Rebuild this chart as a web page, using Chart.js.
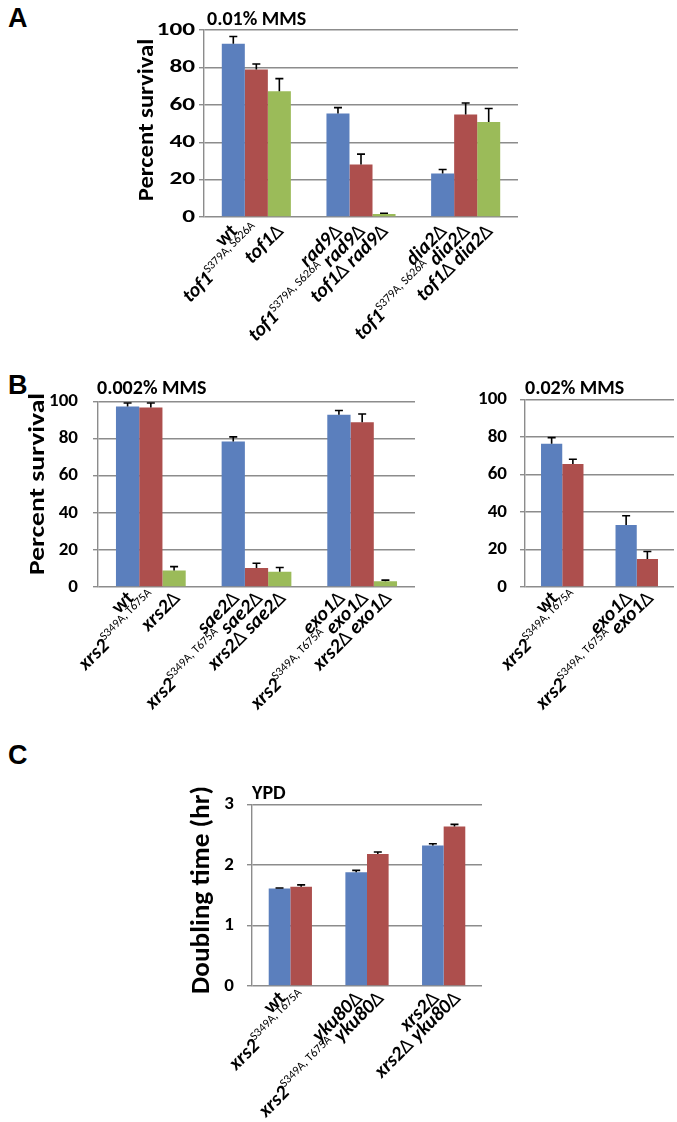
<!DOCTYPE html>
<html>
<head>
<meta charset="utf-8">
<script src="https://cdn.jsdelivr.net/npm/chart.js@4.4.1/dist/chart.umd.min.js"></script>
<style>
body{margin:0;background:#fff}
#fig{position:relative;width:677px;height:1122px;overflow:hidden;font-family:Carlito,Lato,"Open Sans",sans-serif}
.letter{position:absolute;font:bold 27px "Liberation Sans",Arial,sans-serif;line-height:1}
.ttl{position:absolute;font-weight:bold;font-size:20px;line-height:1;white-space:nowrap}
</style>
</head>
<body>
<div id="fig">
  <div class="letter" style="left:8px;top:5px">A</div>
  <div class="letter" style="left:8px;top:372px">B</div>
  <div class="letter" style="left:8px;top:742px">C</div>
</div>
<script>
// ---- panel A: 0.01% MMS ----
const aGroups = ['wt', 'rad9Δ', 'dia2Δ'];
const aBlue = [92.6, 55.3, 23.3];
const aBlueErr = [3.9, 3.2, 2.1];
const aRed = [78.9, 28.1, 54.8];
const aRedErr = [2.9, 5.5, 6.2];
const aGreen = [67.2, 1.6, 50.8];
const aGreenErr = [6.8, 0.4, 7.2];
const aLabels = [
  ['wt', '<i>tof1</i><sup>S379A, S626A</sup>', '<i>tof1</i>Δ'],
  ['<i>rad9</i>Δ', '<i>tof1</i><sup>S379A, S626A</sup> <i>rad9</i>Δ', '<i>tof1</i>Δ <i>rad9</i>Δ'],
  ['<i>dia2</i>Δ', '<i>tof1</i><sup>S379A, S626A</sup> <i>dia2</i>Δ', '<i>tof1</i>Δ <i>dia2</i>Δ']
];

// ---- panel B left: 0.002% MMS ----
const bGroups = ['wt', 'sae2Δ', 'exo1Δ'];
const bBlue = [97.2, 78.4, 92.8];
const bBlueErr = [1.9, 2.5, 2.3];
const bRed = [96.7, 10.2, 88.8];
const bRedErr = [2.4, 2.6, 4.4];
const bGreen = [8.9, 8.2, 3.1];
const bGreenErr = [2.1, 2.3, 0.6];
const bLabels = [
  ['wt', '<i>xrs2</i><sup>S349A, T675A</sup>', '<i>xrs2</i>Δ'],
  ['<i>sae2</i>Δ', '<i>xrs2</i><sup>S349A, T675A</sup> <i>sae2</i>Δ', '<i>xrs2</i>Δ <i>sae2</i>Δ'],
  ['<i>exo1</i>Δ', '<i>xrs2</i><sup>S349A, T675A</sup> <i>exo1</i>Δ', '<i>xrs2</i>Δ <i>exo1</i>Δ']
];

// ---- panel B right: 0.02% MMS ----
const b2Groups = ['wt', 'exo1Δ'];
const b2Blue = [76.3, 33.0];
const b2BlueErr = [3.3, 5.0];
const b2Red = [65.6, 14.9];
const b2RedErr = [2.5, 4.0];
const b2Labels = [
  ['wt', '<i>xrs2</i><sup>S349A, T675A</sup>'],
  ['<i>exo1</i>Δ', '<i>xrs2</i><sup>S349A, T675A</sup> <i>exo1</i>Δ']
];

// ---- panel C: YPD doubling time ----
const cGroups = ['wt', 'yku80Δ', 'xrs2Δ'];
const cBlue = [1.61, 1.88, 2.32];
const cBlueErr = [0.01, 0.03, 0.03];
const cRed = [1.64, 2.18, 2.635];
const cRedErr = [0.03, 0.033, 0.035];
const cLabels = [
  ['wt', '<i>xrs2</i><sup>S349A, T675A</sup>'],
  ['<i>yku80</i>Δ', '<i>xrs2</i><sup>S349A, T675A</sup> <i>yku80</i>Δ'],
  ['<i>xrs2</i>Δ', '<i>xrs2</i>Δ <i>yku80</i>Δ']
];

const colors = ['#5b7fbd', '#ad4f4d', '#9bbb59'];
const gridCol = '#8c8c8c';
const FONT = 'Carlito, Lato, "Open Sans", sans-serif';
const PAD_TOP = 22;

// upward error bars, drawn from the bar tops
const errorBars = {
  id: 'errorBars',
  afterDatasetsDraw(chart) {
    const ctx = chart.ctx, ys = chart.scales.y;
    chart.data.datasets.forEach((ds, i) => {
      chart.getDatasetMeta(i).data.forEach((bar, j) => {
        const top = ys.getPixelForValue(ds.data[j] + ds.err[j]);
        ctx.save();
        ctx.strokeStyle = '#000';
        ctx.lineWidth = 1.6;
        ctx.beginPath();
        ctx.moveTo(bar.x, bar.y);
        ctx.lineTo(bar.x, top);
        ctx.moveTo(bar.x - 4, top);
        ctx.lineTo(bar.x + 4, top);
        ctx.stroke();
        ctx.restore();
      });
    });
  }
};

// panel A has horizontally stretched tick numbers
const wideTicks = {
  id: 'wideTicks',
  afterDraw(chart, args, opts) {
    if (!opts.sx) return;
    const s = chart.scales.y, ctx = chart.ctx;
    ctx.save();
    ctx.fillStyle = '#000';
    ctx.font = opts.font;
    ctx.textAlign = 'right';
    ctx.textBaseline = 'middle';
    s.ticks.forEach(t => {
      ctx.save();
      ctx.translate(s.right - opts.gap, s.getPixelForValue(t.value));
      ctx.scale(opts.sx, 1);
      ctx.fillText(t.label, 0, 0);
      ctx.restore();
    });
    ctx.restore();
  }
};

// rotated y title, stretched along its length like the original
const yTitle = {
  id: 'yTitle',
  afterDraw(chart, args, o) {
    if (!o.text) return;
    const ctx = chart.ctx;
    ctx.save();
    ctx.fillStyle = '#000';
    ctx.font = `bold ${o.size}px ${FONT}`;
    ctx.textAlign = 'center';
    ctx.textBaseline = 'middle';
    ctx.translate(o.x, o.y);
    ctx.rotate(-Math.PI / 2);
    ctx.scale(o.sx, 1);
    ctx.fillText(o.text, 0, 0);
    ctx.restore();
  }
};

function splitRuns(str) {
  const out = [];
  str.split(/(<i>.*?<\/i>|<sup>.*?<\/sup>|Δ)/).forEach(part => {
    if (!part) return;
    if (part.startsWith('<i>')) out.push({ t: part.slice(3, -4), k: 'i' });
    else if (part.startsWith('<sup>')) out.push({ t: part.slice(5, -6), k: 's' });
    else if (part === 'Δ') out.push({ t: 'Δ', k: 'd' });
    else out.push({ t: part, k: 'b' });
  });
  return out;
}

// 45 degree category labels, one per bar, right end under the bar centre
const barLabels = {
  id: 'barLabels',
  afterDraw(chart, args, o) {
    const ctx = chart.ctx, bottom = chart.chartArea.bottom;
    const fonts = {
      b: `bold ${o.size}px ${FONT}`,
      i: `italic bold ${o.size}px ${FONT}`,
      s: `${o.sup}px ${FONT}`,
      d: `${Math.round(o.size * 0.9)}px "DejaVu Sans", sans-serif`
    };
    chart.data.labels.forEach((g, j) => {
      chart.data.datasets.forEach((ds, i) => {
        const bar = chart.getDatasetMeta(i).data[j];
        const runs = splitRuns(o.labels[j][i]);
        let w = 0;
        runs.forEach(r => { ctx.font = fonts[r.k]; r.w = ctx.measureText(r.t).width; w += r.w; });
        ctx.save();
        ctx.fillStyle = '#000';
        ctx.textBaseline = 'alphabetic';
        ctx.translate(bar.x + o.dx, bottom + o.dy);
        ctx.rotate(-Math.PI / 4);
        let x = -w;
        runs.forEach(r => {
          ctx.font = fonts[r.k];
          ctx.fillText(r.t, x, r.k === 's' ? -o.size * 0.42 : 0);
          x += r.w;
        });
        ctx.restore();
      });
    });
  }
};

function drawPanel(p) {
  const fig = document.getElementById('fig');
  const cLeft = p.axisX - p.yWidth;
  const cTop = p.plotTop - PAD_TOP;
  const cw = p.plotRight - cLeft + 2;
  const ch = p.axisY - cTop + p.room;
  const cv = document.createElement('canvas');
  cv.width = cw; cv.height = ch;
  cv.style.cssText = `position:absolute;left:${cLeft}px;top:${cTop}px;width:${cw}px;height:${ch}px`;
  fig.appendChild(cv);

  const datasets = p.series.map((s, i) => ({
    data: s[0], err: s[1], backgroundColor: colors[i], borderWidth: 0,
    categoryPercentage: p.catPct, barPercentage: 1
  }));

  new Chart(cv.getContext('2d'), {
    type: 'bar',
    data: { labels: p.groups, datasets: datasets },
    options: {
      responsive: false,
      maintainAspectRatio: false,
      animation: false,
      devicePixelRatio: 1,
      layout: { padding: { top: PAD_TOP, right: 2, bottom: p.room, left: 0 } },
      plugins: {
        legend: { display: false },
        tooltip: { enabled: false },
        wideTicks: p.tickSx ? { sx: p.tickSx, gap: 5 + p.tickPad, font: `bold ${p.tickSize}px ${FONT}` } : {},
        yTitle: { text: p.yTitle, size: p.yTitleSize, sx: p.yTitleSx, x: p.yTitleX - cLeft, y: p.yTitleY - cTop },
        barLabels: { labels: p.labels, size: 20, sup: 12, dx: p.labDx, dy: p.labDy }
      },
      scales: {
        x: {
          grid: { display: false },
          ticks: { display: false },
          border: { display: false },
          afterFit: s => { s.height = 0; }
        },
        y: {
          min: 0, max: p.yMax,
          ticks: {
            stepSize: p.step, padding: p.tickPad,
            color: p.tickSx ? 'rgba(0,0,0,0)' : '#000',
            font: { family: FONT, size: p.tickSize, weight: 'bold' }
          },
          grid: { color: gridCol, lineWidth: 1.4, tickLength: 5, tickColor: gridCol },
          border: { color: gridCol, width: 1.4 },
          afterFit: s => { s.width = p.yWidth; }
        }
      }
    },
    plugins: [errorBars, wideTicks, yTitle, barLabels]
  });

  // chart title above the top-left of the plot
  const t = document.createElement('div');
  t.className = 'ttl';
  t.textContent = p.title;
  t.style.cssText = `left:${p.titleX}px;top:${p.titleY - 10}px`;
  fig.appendChild(t);
}

const panels = [
  { groups: aGroups, series: [[aBlue, aBlueErr], [aRed, aRedErr], [aGreen, aGreenErr]], labels: aLabels,
    axisX: 204, yWidth: 70, plotTop: 30, axisY: 217, plotRight: 518, room: 135, yMax: 100, step: 20,
    yTitle: 'Percent survival', yTitleSize: 22, yTitleSx: 1.12, yTitleX: 147, yTitleY: 120,
    tickSize: 19, tickPad: 4, tickSx: 1.33, catPct: 0.66,
    labDx: 5, labDy: 15, title: '0.01% MMS', titleX: 207, titleY: 18 },
  { groups: bGroups, series: [[bBlue, bBlueErr], [bRed, bRedErr], [bGreen, bGreenErr]], labels: bLabels,
    axisX: 98, yWidth: 74, plotTop: 397, axisY: 587, plotRight: 415, room: 190, yMax: 100, step: 20,
    yTitle: 'Percent survival', yTitleSize: 23, yTitleSx: 1.2, yTitleX: 38, yTitleY: 484,
    tickSize: 19, tickPad: 15, catPct: 0.66,
    labDx: 7, labDy: 12, title: '0.002% MMS', titleX: 97, titleY: 387 },
  { groups: b2Groups, series: [[b2Blue, b2BlueErr], [b2Red, b2RedErr]], labels: b2Labels,
    axisX: 525, yWidth: 55, plotTop: 397, axisY: 587, plotRight: 674, room: 190, yMax: 100, step: 20,
    yTitle: '', tickSize: 19, tickPad: 13, catPct: 0.57,
    labDx: 7, labDy: 12, title: '0.02% MMS', titleX: 525, titleY: 387 },
  { groups: cGroups, series: [[cBlue, cBlueErr], [cRed, cRedErr]], labels: cLabels,
    axisX: 252, yWidth: 64, plotTop: 802, axisY: 986, plotRight: 482, room: 136, yMax: 3, step: 1,
    yTitle: 'Doubling time (hr)', yTitleSize: 26, yTitleSx: 1.05, yTitleX: 202, yTitleY: 890,
    tickSize: 19, tickPad: 13, catPct: 0.564,
    labDx: 7, labDy: 13, title: 'YPD', titleX: 252, titleY: 792 }
];

panels.forEach(drawPanel);
</script>
</body>
</html>
